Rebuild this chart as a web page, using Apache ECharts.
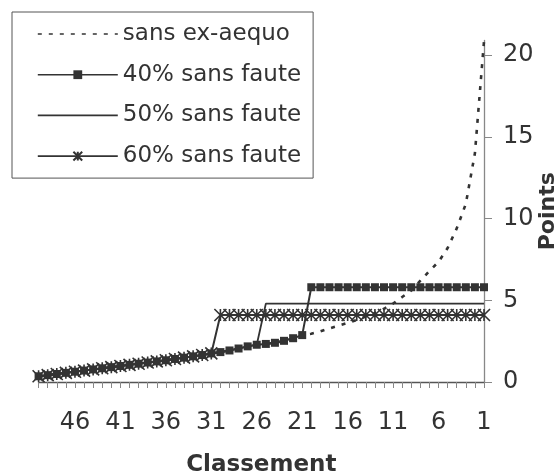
<!DOCTYPE html>
<html>
<head>
<meta charset="utf-8">
<script src="https://cdn.jsdelivr.net/npm/echarts@6/dist/echarts.min.js"></script>
<style>
html,body{margin:0;padding:0;background:#fff;}
#chart{width:560px;height:473px;}
</style>
</head>
<body>
<div id="chart"></div>
<script>
// Ranks shown left to right: 50 ... 1
var ranks = ['50','49','48','47','46','45','44','43','42','41','40','39','38','37','36','35','34','33','32','31','30','29','28','27','26','25','24','23','22','21','20','19','18','17','16','15','14','13','12','11','10','9','8','7','6','5','4','3','2','1'];

var seriesNames = ['sans ex-aequo', '40% sans faute', '50% sans faute', '60% sans faute'];

var sansExAequo = [0.35,0.42,0.49,0.56,0.63,0.70,0.77,0.84,0.91,0.98,1.05,1.12,1.19,1.26,1.33,1.41,1.49,1.57,1.65,1.75,1.83,1.93,2.05,2.18,2.28,2.33,2.40,2.52,2.68,2.87,2.95,3.10,3.28,3.45,3.62,3.80,4.00,4.22,4.48,4.80,5.20,5.60,6.20,6.80,7.35,8.20,9.40,10.90,14.00,20.85];

var sansFaute40 = [0.35,0.42,0.49,0.56,0.63,0.70,0.77,0.84,0.91,0.98,1.05,1.12,1.19,1.26,1.33,1.41,1.49,1.57,1.65,1.75,1.83,1.93,2.05,2.18,2.28,2.33,2.40,2.52,2.68,2.87,5.80,5.80,5.80,5.80,5.80,5.80,5.80,5.80,5.80,5.80,5.80,5.80,5.80,5.80,5.80,5.80,5.80,5.80,5.80,5.80];

var sansFaute50 = [0.35,0.42,0.49,0.56,0.63,0.70,0.77,0.84,0.91,0.98,1.05,1.12,1.19,1.26,1.33,1.41,1.49,1.57,1.65,1.75,1.83,1.93,2.05,2.18,2.28,4.80,4.80,4.80,4.80,4.80,4.80,4.80,4.80,4.80,4.80,4.80,4.80,4.80,4.80,4.80,4.80,4.80,4.80,4.80,4.80,4.80,4.80,4.80,4.80,4.80];

var sansFaute60 = [0.35,0.42,0.49,0.56,0.63,0.70,0.77,0.84,0.91,0.98,1.05,1.12,1.19,1.26,1.33,1.41,1.49,1.57,1.65,1.75,4.10,4.10,4.10,4.10,4.10,4.10,4.10,4.10,4.10,4.10,4.10,4.10,4.10,4.10,4.10,4.10,4.10,4.10,4.10,4.10,4.10,4.10,4.10,4.10,4.10,4.10,4.10,4.10,4.10,4.10];

var yTicks = [0, 5, 10, 15, 20];
var xLabelEvery = 5;

var FONT = 'DejaVu Sans';
var DARK = '#333333';
var asterisk = 'path://M0,0L10,10M10,0L0,10M5,0L5,10';

var chart = echarts.init(document.getElementById('chart'), null, {renderer: 'canvas'});
chart.setOption({
  animation: false,
  backgroundColor: '#ffffff',
  textStyle: {fontFamily: FONT, color: DARK},
  grid: {left: 38.6, right: 76, top: 40.5, bottom: 91, containLabel: false, outerBoundsMode: 'none'},
  legend: {
    left: 12, top: 12, orient: 'vertical',
    padding: [8, 12, 8, 25],
    borderColor: '#555', borderWidth: 1,
    backgroundColor: '#fff',
    itemWidth: 80, itemHeight: 11, itemGap: 12.7, itemTextGap: 7,
    lineStyle: {width: 1.6},
    textStyle: {fontFamily: FONT, fontSize: 23, color: DARK, lineHeight: 28},
    data: [
      {name: seriesNames[0], itemStyle: {opacity: 0}},
      {name: seriesNames[1]},
      {name: seriesNames[2], itemStyle: {opacity: 0}},
      {name: seriesNames[3]}
    ]
  },
  xAxis: {
    type: 'category', data: ranks, boundaryGap: false,
    name: 'Classement', nameLocation: 'middle', nameGap: 72, nameMoveOverlap: false,
    nameTextStyle: {fontFamily: FONT, fontSize: 23, fontWeight: 'bold', color: DARK},
    axisLine: {lineStyle: {color: '#555', width: 1.3}},
    axisTick: {show: true, interval: 0, length: 6, lineStyle: {color: '#888'}},
    axisLabel: {
      interval: function (idx) { return (ranks.length - 1 - idx) % xLabelEvery === 0; },
      fontFamily: FONT, fontSize: 24, color: DARK, margin: 29
    },
    splitLine: {show: false}
  },
  yAxis: {
    type: 'value', position: 'right', min: 0, max: 20.9,
    name: 'Points', nameLocation: 'middle', nameGap: 53, nameRotate: 90, nameMoveOverlap: false,
    nameTextStyle: {fontFamily: FONT, fontSize: 22, fontWeight: 'bold', color: DARK},
    axisLine: {show: true, lineStyle: {color: '#888', width: 1.3}},
    axisTick: {show: true, length: 8, lineStyle: {color: '#888'}, customValues: yTicks},
    axisLabel: {fontFamily: FONT, fontSize: 24, color: DARK, margin: 19, customValues: yTicks},
    splitLine: {show: false}
  },
  series: [
    {
      name: seriesNames[0], type: 'line', data: sansExAequo,
      symbol: 'none', showSymbol: false,
      lineStyle: {color: DARK, width: 2.6, type: [4, 7]},
      itemStyle: {color: DARK}
    },
    {
      name: seriesNames[1], type: 'line', data: sansFaute40,
      symbol: 'rect', symbolSize: 8, showAllSymbol: true,
      lineStyle: {color: DARK, width: 2},
      itemStyle: {color: DARK, borderColor: DARK, borderWidth: 0}
    },
    {
      name: seriesNames[2], type: 'line', data: sansFaute50,
      symbol: 'none', showSymbol: false,
      lineStyle: {color: DARK, width: 1.8},
      itemStyle: {color: DARK}
    },
    {
      name: seriesNames[3], type: 'line', data: sansFaute60,
      symbol: asterisk, symbolSize: 12, showAllSymbol: true,
      lineStyle: {color: DARK, width: 2},
      itemStyle: {color: DARK, borderColor: DARK, borderWidth: 1.6}
    }
  ]
});
</script>
</body>
</html>
